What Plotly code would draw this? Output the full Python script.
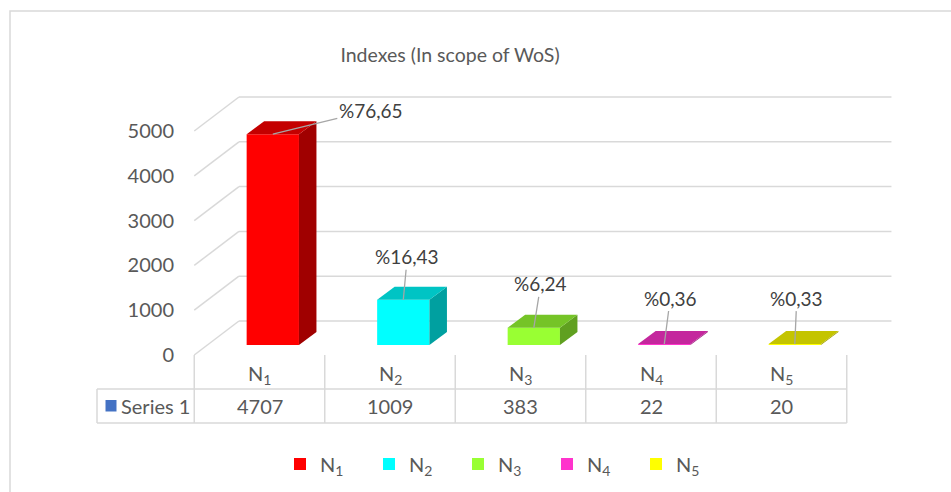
import plotly.graph_objects as go

# ---------------- data ----------------
categories = ["N<sub>1</sub>", "N<sub>2</sub>", "N<sub>3</sub>", "N<sub>4</sub>", "N<sub>5</sub>"]
values = [4707, 1009, 383, 22, 20]
series_name = "Series 1"
y_ticks = [0, 1000, 2000, 3000, 4000, 5000]
title_text = "Indexes (In scope of WoS)"

# ---------------- style ----------------
bar_colors = ["#FF0000", "#00FFFF", "#99FF33", "#FF33CC", "#FFFF00"]
label_offsets = [(98, -24), (4, -43), (7, -44), (6, -46), (2, -46)]
FONT = "Lato"
TXT = "#595959"
LINE = "#D9D9D9"

W, H = 951, 492
L = 175            # left margin (y tick labels live in it)
COL_PX = 130.5     # width of a category column in px
COL0 = 259.5       # px centre of first column (front plane)
Y0 = 355.0         # px of value 0 on front plane
VPX = 0.0448       # px per value unit

FLOOR_DX, FLOOR_DY = 44.7, 34.0
BAR_OFF_DX, BAR_OFF_DY = 13.3, 10.0
BAR_DX, BAR_DY = 17.5, 13.0
BAR_W = 52.3


def xd(px):
    return (px - COL0) / COL_PX


def yd(py):
    return (Y0 - py) / VPX


def xp(px):
    return (px - L) / (W - L)


def yp(py):
    return 1 - py / H


def shade(hexc, f):
    r, g, b = int(hexc[1:3], 16), int(hexc[3:5], 16), int(hexc[5:7], 16)
    return "rgb(%d,%d,%d)" % (r * f, g * f, b * f)


fig = go.Figure()

bw = BAR_W / COL_PX
ddx = BAR_DX / COL_PX
ddy = BAR_DY / VPX
base = BAR_OFF_DY / VPX
total = sum(values)
annotations = []

for i, (cat, v) in enumerate(zip(categories, values)):
    xc = i + BAR_OFF_DX / COL_PX
    xl, xr = xc - bw / 2, xc + bw / 2
    top = base + v
    fig.add_trace(go.Bar(x=[xc], y=[v], base=[base], width=bw, name=cat,
                         marker=dict(color=bar_colors[i], line=dict(width=0)),
                         hoverinfo="skip"))
    # side face
    fig.add_trace(go.Scatter(x=[xr, xr, xr + ddx, xr + ddx, xr],
                             y=[base, top, top + ddy, base + ddy, base],
                             fill="toself", mode="lines", line=dict(width=0),
                             fillcolor=shade(bar_colors[i], 0.63),
                             showlegend=False, hoverinfo="skip"))
    # top face
    fig.add_trace(go.Scatter(x=[xl, xr, xr + ddx, xl + ddx, xl],
                             y=[top, top, top + ddy, top + ddy, top],
                             fill="toself", mode="lines", line=dict(width=0),
                             fillcolor=shade(bar_colors[i], 0.77),
                             showlegend=False, hoverinfo="skip"))
    pct = ("%" + "%.2f" % (v / total * 100)).replace(".", ",")
    ax, ay = label_offsets[i]
    annotations.append(dict(x=xc, y=top, xref="x", yref="y", text=pct,
                            showarrow=True, arrowhead=0, arrowwidth=1.3,
                            arrowcolor="#A6A6A6", standoff=0, ax=ax, ay=ay,
                            font=dict(family=FONT, size=19, color="#404040")))
    # table texts
    annotations.append(dict(x=i, y=yd(374), xref="x", yref="y", text=cat,
                            showarrow=False, yanchor="middle",
                            font=dict(family=FONT, size=20, color=TXT)))
    annotations.append(dict(x=i, y=yd(406), xref="x", yref="y", text=str(v),
                            showarrow=False, yanchor="middle",
                            font=dict(family=FONT, size=20, color=TXT)))

annotations.append(dict(x=xp(119), y=yp(406), xref="paper", yref="paper",
                        text=series_name, showarrow=False, xanchor="left",
                        yanchor="middle",
                        font=dict(family=FONT, size=20, color=TXT)))

shapes = []
# gridlines: back wall + left wall diagonals
x_front_left = -0.5
x_back_left = -0.5 + FLOOR_DX / COL_PX
x_back_right = len(values) - 0.5 + FLOOR_DX / COL_PX
back_dy = FLOOR_DY / VPX
for t in y_ticks:
    shapes.append(dict(type="line", xref="x", yref="y", layer="below",
                       x0=x_back_left, x1=x_back_right, y0=t + back_dy, y1=t + back_dy,
                       line=dict(color=LINE, width=1.5)))
    shapes.append(dict(type="line", xref="x", yref="y", layer="below",
                       x0=x_front_left, x1=x_back_left, y0=t, y1=t + back_dy,
                       line=dict(color=LINE, width=1.5)))

# data table grid
col_edges = [COL0 + (i - 0.5) * COL_PX for i in range(len(values) + 1)]
for ce in col_edges:
    shapes.append(dict(type="line", xref="paper", yref="paper",
                       x0=xp(ce), x1=xp(ce), y0=yp(355), y1=yp(423),
                       line=dict(color=LINE, width=1.5)))
shapes.append(dict(type="line", xref="paper", yref="paper",
                   x0=xp(97), x1=xp(97), y0=yp(389), y1=yp(423),
                   line=dict(color=LINE, width=1.5)))
for ry in (389, 423):
    shapes.append(dict(type="line", xref="paper", yref="paper",
                       x0=xp(97), x1=xp(col_edges[-1]), y0=yp(ry), y1=yp(ry),
                       line=dict(color=LINE, width=1.5)))
# series key square
shapes.append(dict(type="rect", xref="paper", yref="paper",
                   x0=xp(105.5), x1=xp(116.5), y0=yp(400), y1=yp(411.5),
                   fillcolor="#4472C4", line=dict(width=0)))
# chart border
shapes.append(dict(type="rect", xref="paper", yref="paper",
                   x0=xp(10), x1=xp(975), y0=yp(11), y1=yp(510),
                   fillcolor="rgba(0,0,0,0)", line=dict(color=LINE, width=1.5)))

fig.update_layout(
    width=W, height=H,
    margin=dict(l=L, r=0, t=0, b=0),
    paper_bgcolor="white", plot_bgcolor="white",
    barmode="overlay",
    title=dict(text=title_text, x=450 / W, xanchor="center", y=1 - 55 / H,
               yanchor="middle", font=dict(family=FONT, size=19.5, color=TXT)),
    xaxis=dict(range=[xd(L), xd(W)], visible=False, fixedrange=True),
    yaxis=dict(range=[yd(H), yd(0)], tickvals=y_ticks, showgrid=False,
               zeroline=False, showline=False, ticks="", fixedrange=True,
               tickfont=dict(family=FONT, size=20, color=TXT)),
    legend=dict(orientation="h", x=xp(280), xanchor="left", y=yp(464),
                yanchor="middle", entrywidth=44, entrywidthmode="pixels",
                font=dict(family=FONT, size=20, color=TXT),
                bgcolor="rgba(0,0,0,0)"),
    shapes=shapes,
    annotations=annotations,
    showlegend=True,
)

fig.write_html("out.html", config={"displayModeBar": False},
               post_script="document.body.style.margin='0';document.body.style.overflow='hidden';")
